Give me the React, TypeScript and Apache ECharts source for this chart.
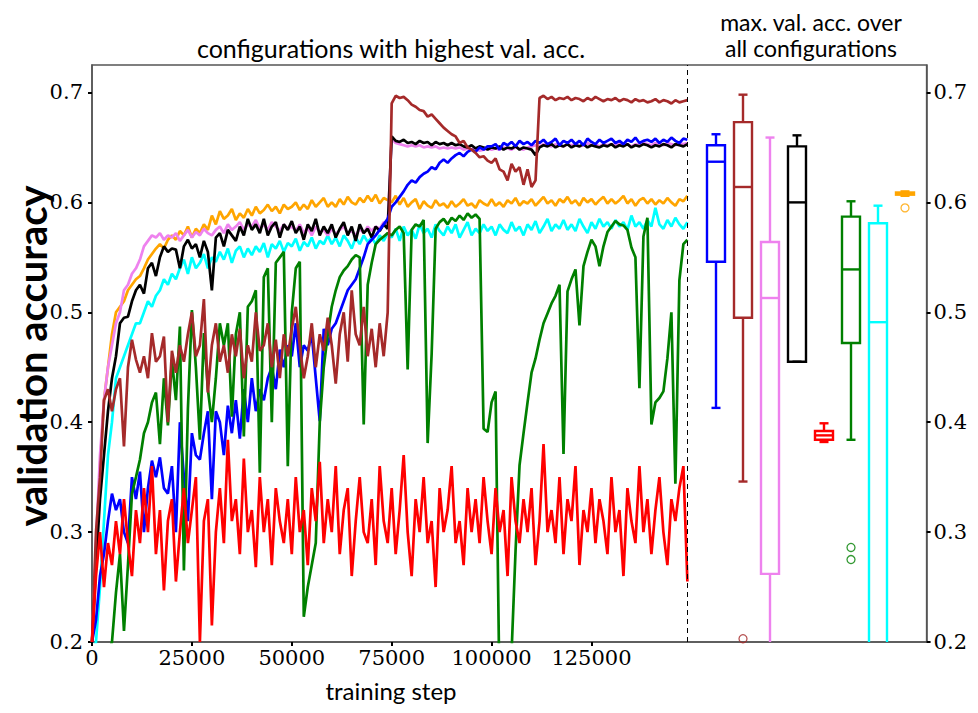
import React, { useEffect, useRef } from "react";
import * as echarts from "echarts";

const STEP = 1000;
const xTicks = [0, 25000, 50000, 75000, 100000, 125000];
const yTicks = [0.2, 0.3, 0.4, 0.5, 0.6, 0.7];

const orange = [
  0.20,0.28,0.36,0.42,0.45,0.48,0.50,0.505,0.51,0.52,
  0.525,0.53,0.533,0.54,0.548,0.553,0.558,0.562,0.558,0.566,
  0.57,0.566,0.574,0.57,0.578,0.568,0.576,0.572,0.58,0.575,
  0.588,0.58,0.592,0.585,0.588,0.594,0.584,0.59,0.586,0.594,
  0.588,0.596,0.59,0.593,0.598,0.592,0.596,0.59,0.598,0.594,
  0.596,0.6,0.593,0.598,0.594,0.602,0.596,0.6,0.604,0.596,
  0.6,0.596,0.603,0.598,0.605,0.6,0.598,0.604,0.6,0.606,
  0.601,0.607,0.599,0.604,0.602,0.6,0.606,0.598,0.604,0.596,
  0.6,0.603,0.594,0.601,0.597,0.595,0.602,0.597,0.599,0.595,
  0.601,0.596,0.599,0.603,0.597,0.599,0.595,0.602,0.599,0.597,
  0.603,0.597,0.6,0.596,0.602,0.599,0.604,0.597,0.601,0.599,
  0.603,0.597,0.601,0.605,0.599,0.602,0.597,0.603,0.6,0.605,
  0.599,0.602,0.597,0.604,0.6,0.603,0.598,0.602,0.605,0.599,
  0.603,0.599,0.602,0.606,0.599,0.603,0.597,0.602,0.604,0.599,
  0.603,0.598,0.602,0.599,0.604,0.6,0.597,0.603,0.601,0.606,
];

const cyan = [
  0.19,0.20,0.25,0.31,0.37,0.40,0.44,0.45,0.46,0.47,
  0.48,0.49,0.49,0.50,0.51,0.505,0.515,0.52,0.53,0.525,
  0.535,0.53,0.54,0.548,0.535,0.55,0.54,0.545,0.553,0.54,
  0.55,0.546,0.555,0.548,0.558,0.545,0.556,0.56,0.55,0.558,
  0.552,0.56,0.555,0.563,0.55,0.562,0.558,0.565,0.555,0.563,
  0.56,0.567,0.556,0.564,0.56,0.568,0.558,0.565,0.562,0.57,
  0.562,0.568,0.56,0.57,0.565,0.558,0.568,0.562,0.57,0.564,
  0.568,0.562,0.57,0.565,0.572,0.568,0.576,0.565,0.578,0.57,
  0.575,0.567,0.58,0.572,0.576,0.568,0.58,0.574,0.57,0.578,
  0.572,0.58,0.568,0.575,0.582,0.57,0.576,0.572,0.58,0.574,
  0.578,0.57,0.58,0.575,0.572,0.582,0.574,0.578,0.57,0.58,
  0.575,0.583,0.572,0.578,0.585,0.574,0.58,0.576,0.584,0.575,
  0.58,0.574,0.585,0.578,0.572,0.582,0.576,0.585,0.578,0.582,
  0.576,0.584,0.578,0.582,0.575,0.588,0.578,0.582,0.576,0.584,
  0.578,0.595,0.58,0.576,0.584,0.578,0.586,0.58,0.576,0.582,
];

const violet = [
  0.20,0.29,0.37,0.42,0.45,0.47,0.49,0.50,0.52,0.525,
  0.535,0.54,0.548,0.56,0.565,0.57,0.568,0.572,0.566,0.57,
  0.568,0.572,0.565,0.57,0.575,0.568,0.573,0.57,0.576,0.572,
  0.57,0.575,0.578,0.572,0.58,0.575,0.578,0.582,0.575,0.58,
  0.578,0.584,0.576,0.58,0.575,0.582,0.578,0.574,0.58,0.576,
  0.578,0.574,0.58,0.572,0.577,0.57,0.578,0.573,0.575,0.57,
  0.576,0.571,0.575,0.578,0.572,0.574,0.57,0.576,0.572,0.578,
  0.574,0.578,0.576,0.582,0.58,0.658,0.654,0.653,0.652,0.651,
  0.652,0.651,0.652,0.65,0.651,0.65,0.651,0.649,0.65,0.649,
  0.65,0.649,0.65,0.648,0.649,0.648,0.649,0.647,0.648,0.649,
  0.648,0.649,0.648,0.65,0.649,0.648,0.65,0.649,0.648,0.65,
  0.651,0.652,0.651,0.653,0.652,0.651,0.653,0.652,0.651,0.653,
  0.652,0.653,0.651,0.652,0.654,0.652,0.653,0.651,0.653,0.652,
  0.653,0.652,0.654,0.652,0.653,0.651,0.653,0.652,0.654,0.653,
  0.652,0.654,0.653,0.652,0.654,0.653,0.652,0.654,0.653,0.654,
];

const black = [
  0.20,0.27,0.33,0.37,0.41,0.44,0.46,0.49,0.495,0.496,
  0.51,0.52,0.525,0.517,0.54,0.545,0.533,0.55,0.56,0.555,
  0.558,0.557,0.54,0.56,0.566,0.558,0.562,0.55,0.565,0.555,
  0.52,0.568,0.572,0.56,0.575,0.57,0.565,0.578,0.57,0.585,
  0.575,0.58,0.572,0.585,0.57,0.578,0.582,0.568,0.58,0.575,
  0.583,0.572,0.578,0.566,0.58,0.574,0.585,0.57,0.578,0.572,
  0.58,0.568,0.576,0.582,0.57,0.578,0.565,0.58,0.572,0.576,
  0.568,0.578,0.574,0.58,0.576,0.66,0.656,0.655,0.657,0.654,
  0.655,0.653,0.656,0.654,0.655,0.652,0.655,0.653,0.654,0.652,
  0.654,0.652,0.653,0.651,0.65,0.652,0.649,0.651,0.65,0.648,
  0.65,0.649,0.651,0.648,0.65,0.649,0.651,0.648,0.65,0.649,
  0.648,0.643,0.65,0.652,0.651,0.653,0.65,0.652,0.651,0.653,
  0.65,0.652,0.651,0.653,0.65,0.652,0.651,0.65,0.652,0.651,
  0.653,0.65,0.652,0.651,0.653,0.65,0.652,0.651,0.653,0.652,
  0.65,0.652,0.651,0.653,0.652,0.65,0.653,0.652,0.651,0.653,
];

const blue = [
  0.20,0.22,0.26,0.28,0.31,0.335,0.32,0.33,0.30,0.29,
  0.35,0.33,0.355,0.30,0.34,0.365,0.35,0.368,0.34,0.335,
  0.36,0.30,0.40,0.35,0.31,0.39,0.37,0.366,0.39,0.41,
  0.33,0.41,0.40,0.37,0.415,0.39,0.42,0.385,0.43,0.40,
  0.44,0.41,0.43,0.42,0.44,0.45,0.43,0.466,0.45,0.47,
  0.46,0.49,0.45,0.47,0.465,0.48,0.44,0.401,0.485,0.47,
  0.485,0.49,0.50,0.51,0.52,0.525,0.53,0.54,0.55,0.562,
  0.566,0.57,0.575,0.58,0.585,0.596,0.60,0.605,0.61,0.616,
  0.62,0.618,0.623,0.626,0.628,0.632,0.63,0.636,0.639,0.636,
  0.64,0.643,0.645,0.642,0.646,0.648,0.646,0.65,0.648,0.651,
  0.651,0.653,0.648,0.654,0.652,0.655,0.651,0.656,0.653,0.655,
  0.652,0.656,0.654,0.657,0.653,0.655,0.658,0.652,0.656,0.654,
  0.657,0.653,0.656,0.652,0.658,0.655,0.653,0.657,0.654,0.656,
  0.658,0.654,0.656,0.653,0.657,0.655,0.659,0.654,0.656,0.657,
  0.655,0.658,0.654,0.657,0.655,0.659,0.656,0.654,0.658,0.657,
];

const green = [
  0.10,0.12,0.15,0.17,0.19,0.20,0.245,0.28,0.21,0.27,
  0.335,0.35,0.366,0.39,0.40,0.418,0.427,0.38,0.44,0.397,
  0.457,0.42,0.487,0.265,0.412,0.502,0.45,0.384,0.481,0.43,
  0.40,0.44,0.49,0.47,0.49,0.405,0.48,0.50,0.387,0.505,
  0.51,0.52,0.354,0.532,0.54,0.40,0.545,0.55,0.555,0.36,
  0.50,0.54,0.546,0.223,0.25,0.27,0.29,0.40,0.45,0.48,
  0.505,0.52,0.532,0.538,0.542,0.548,0.552,0.55,0.398,0.525,
  0.545,0.562,0.566,0.569,0.572,0.57,0.575,0.578,0.572,0.448,
  0.575,0.58,0.578,0.584,0.381,0.462,0.576,0.582,0.585,0.58,
  0.586,0.583,0.588,0.584,0.59,0.586,0.589,0.585,0.394,0.391,
  0.418,0.428,0.15,0.10,0.10,0.19,0.283,0.361,0.39,0.418,
  0.445,0.458,0.475,0.49,0.499,0.508,0.515,0.525,0.371,0.519,
  0.53,0.539,0.488,0.542,0.555,0.566,0.56,0.542,0.56,0.573,
  0.578,0.583,0.58,0.579,0.575,0.559,0.55,0.431,0.569,0.586,
  0.398,0.418,0.422,0.428,0.458,0.50,0.344,0.529,0.562,0.566,
];

const brown = [
  0.20,0.30,0.35,0.42,0.43,0.41,0.43,0.44,0.378,0.45,
  0.475,0.457,0.445,0.46,0.44,0.481,0.455,0.46,0.478,0.40,
  0.465,0.445,0.47,0.455,0.48,0.50,0.46,0.47,0.512,0.427,
  0.47,0.49,0.455,0.47,0.445,0.48,0.46,0.485,0.44,0.47,
  0.455,0.50,0.465,0.47,0.49,0.45,0.475,0.44,0.48,0.46,
  0.485,0.505,0.47,0.44,0.46,0.49,0.45,0.48,0.465,0.495,
  0.47,0.435,0.48,0.50,0.455,0.52,0.48,0.47,0.505,0.46,
  0.485,0.45,0.49,0.46,0.50,0.69,0.697,0.695,0.696,0.693,
  0.689,0.687,0.684,0.683,0.678,0.68,0.676,0.672,0.668,0.665,
  0.662,0.66,0.654,0.656,0.65,0.648,0.645,0.641,0.642,0.638,
  0.636,0.64,0.63,0.628,0.62,0.635,0.628,0.632,0.616,0.63,
  0.614,0.62,0.695,0.697,0.694,0.696,0.693,0.695,0.694,0.696,
  0.693,0.695,0.694,0.692,0.695,0.693,0.696,0.694,0.692,0.694,
  0.693,0.695,0.692,0.694,0.693,0.691,0.694,0.692,0.693,0.691,
  0.692,0.694,0.691,0.693,0.692,0.69,0.693,0.691,0.692,0.693,
];

const red = [
  0.20,0.26,0.30,0.25,0.29,0.27,0.31,0.28,0.33,0.29,
  0.26,0.32,0.29,0.34,0.30,0.36,0.28,0.32,0.247,0.31,
  0.33,0.255,0.30,0.34,0.29,0.32,0.35,0.20,0.31,0.33,
  0.215,0.30,0.34,0.29,0.384,0.31,0.33,0.28,0.367,0.30,
  0.32,0.268,0.35,0.30,0.33,0.27,0.34,0.31,0.29,0.33,
  0.28,0.35,0.30,0.32,0.27,0.34,0.31,0.364,0.29,0.33,
  0.30,0.36,0.28,0.32,0.34,0.26,0.31,0.35,0.30,0.29,
  0.33,0.27,0.36,0.31,0.29,0.34,0.28,0.32,0.37,0.30,
  0.26,0.33,0.30,0.35,0.29,0.31,0.25,0.34,0.30,0.32,
  0.36,0.29,0.31,0.27,0.34,0.30,0.33,0.29,0.35,0.31,
  0.28,0.34,0.30,0.32,0.26,0.35,0.31,0.29,0.33,0.30,
  0.34,0.27,0.31,0.38,0.30,0.32,0.29,0.35,0.28,0.33,
  0.31,0.36,0.27,0.32,0.30,0.34,0.29,0.33,0.31,0.28,
  0.35,0.30,0.32,0.26,0.34,0.31,0.29,0.36,0.30,0.33,
  0.28,0.32,0.35,0.30,0.27,0.33,0.31,0.34,0.36,0.255,
];

// box panel: [min, q1, median, q3, max]
const boxColors = ["#0000ff", "#a52a2a", "#ee82ee", "#000000", "#ff0000", "#008000", "#00ffff", "#ffa500"];
const boxStats = [
  [0.413, 0.546, 0.637, 0.652, 0.662],
  [0.346, 0.495, 0.614, 0.673, 0.698],
  [0.10, 0.262, 0.513, 0.564, 0.659],
  [0.455, 0.455, 0.600, 0.651, 0.661],
  [0.382, 0.384, 0.388, 0.392, 0.399],
  [0.384, 0.472, 0.539, 0.587, 0.601],
  [0.05, 0.10, 0.491, 0.581, 0.597],
  [0.606, 0.607, 0.608, 0.609, 0.610],
];
const outliers = [
  [2, 0.203, 1],
  [6, 0.286, 5],
  [6, 0.275, 5],
  [8, 0.595, 7],
];

const lineSeries = [
  { name: "orange", color: "#ffa500", data: orange },
  { name: "cyan", color: "#00ffff", data: cyan },
  { name: "violet", color: "#ee82ee", data: violet },
  { name: "black", color: "#000000", data: black },
  { name: "blue", color: "#0000ff", data: blue },
  { name: "green", color: "#008000", data: green },
  { name: "brown", color: "#a52a2a", data: brown },
  { name: "red", color: "#ff0000", data: red },
];

const SERIF = "DejaVu Serif";
const SANS = "Lato";

export default function App() {
  const ref = useRef<HTMLDivElement>(null);
  useEffect(() => {
    if (!ref.current) return;
    const chart = echarts.init(ref.current, null, { renderer: "svg" });
    // the div sits at the body's 8px margin
    const gridLeft = 84, gridTop = 57, gridW = 837, gridH = 577;
    const series: any[] = lineSeries.map((s, idx) => ({
      type: "line",
      name: s.name,
      xAxisIndex: 0,
      yAxisIndex: 0,
      data: s.data.map((v, i) => [i * STEP, v]),
      showSymbol: false,
      symbol: "none",
      lineStyle: { color: s.color, width: 2.7 },
      itemStyle: { color: s.color },
      clip: true,
      z: 2 + idx * 0.01,
      markLine: idx === 0 ? {
        silent: true,
        symbol: "none",
        label: { show: false },
        lineStyle: { type: [5, 4], color: "#000", width: 1 },
        data: [{ xAxis: 149000 }],
      } : undefined,
    }));
    series.push({
      type: "custom",
      name: "max val acc",
      xAxisIndex: 1,
      yAxisIndex: 2,
      clip: true,
      data: boxStats.map((b, i) => [i + 1, ...b, i]),
      encode: { x: 0, y: [1, 2, 3, 4, 5] },
      renderItem: (params: any, api: any) => {
        const x = api.value(0);
        const col = boxColors[api.value(6)];
        const pMin = api.coord([x, api.value(1)]);
        const pQ1 = api.coord([x, api.value(2)]);
        const pMed = api.coord([x, api.value(3)]);
        const pQ3 = api.coord([x, api.value(4)]);
        const pMax = api.coord([x, api.value(5)]);
        const hw = 9, cw = 4.5;
        const style = { stroke: col, lineWidth: 2.4, fill: null };
        const cx = pMed[0];
        return {
          type: "group",
          children: [
            { type: "line", shape: { x1: cx, y1: pMax[1], x2: cx, y2: pQ3[1] }, style },
            { type: "line", shape: { x1: cx, y1: pQ1[1], x2: cx, y2: pMin[1] }, style },
            { type: "line", shape: { x1: cx - cw, y1: pMax[1], x2: cx + cw, y2: pMax[1] }, style },
            { type: "line", shape: { x1: cx - cw, y1: pMin[1], x2: cx + cw, y2: pMin[1] }, style },
            { type: "rect", shape: { x: cx - hw, y: pQ3[1], width: hw * 2, height: pQ1[1] - pQ3[1] }, style },
            { type: "line", shape: { x1: cx - hw, y1: pMed[1], x2: cx + hw, y2: pMed[1] }, style },
          ],
        };
      },
      z: 3,
    });
    series.push({
      type: "scatter",
      name: "outliers",
      xAxisIndex: 1,
      yAxisIndex: 2,
      symbol: "circle",
      symbolSize: 8,
      data: outliers.map((o) => ({
        value: [o[0], o[1]],
        itemStyle: { color: "rgba(0,0,0,0)", borderColor: boxColors[o[2]], borderWidth: 1.3 },
      })),
      z: 3,
    });

    const tickLabel = { fontFamily: SERIF, fontSize: 21, color: "#000", fontWeight: "normal" };
    chart.setOption({
      animation: false,
      backgroundColor: "#fff",
      textStyle: { fontFamily: SERIF },
      grid: [
        { left: gridLeft, top: gridTop, width: gridW, height: gridH, show: true, borderColor: "#555", borderWidth: 1.5, backgroundColor: "transparent" },
        { left: 681, top: gridTop, width: 240, height: gridH, show: false },
      ],
      xAxis: [
        {
          type: "value",
          gridIndex: 0,
          min: 0,
          max: 208870,
          axisLine: { show: true, lineStyle: { color: "#555", width: 1.5 } },
          axisTick: { show: true, customValues: xTicks, length: 4, lineStyle: { color: "#000", width: 2 } },
          axisLabel: { ...tickLabel, customValues: xTicks, margin: 5, formatter: (v: number) => String(v) },
          splitLine: { show: false },
        },
        { type: "value", gridIndex: 1, min: 0, max: 240 / 27, show: false },
      ],
      yAxis: [
        {
          type: "value",
          gridIndex: 0,
          position: "left",
          min: 0.2,
          max: 0.725,
          axisLine: { show: true, lineStyle: { color: "#555", width: 1.5 } },
          axisTick: { show: true, customValues: yTicks, length: 4, lineStyle: { color: "#000", width: 2 } },
          axisLabel: { ...tickLabel, customValues: yTicks, margin: 9, formatter: (v: number) => v.toFixed(1) },
          splitLine: { show: false },
        },
        {
          type: "value",
          gridIndex: 0,
          position: "right",
          min: 0.2,
          max: 0.725,
          axisLine: { show: true, lineStyle: { color: "#555", width: 1.5 } },
          axisTick: { show: true, customValues: yTicks, length: 4, lineStyle: { color: "#000", width: 2 } },
          axisLabel: { ...tickLabel, customValues: yTicks, margin: 7, formatter: (v: number) => v.toFixed(1) },
          splitLine: { show: false },
        },
        { type: "value", gridIndex: 1, min: 0.2, max: 0.725, show: false },
      ],
      graphic: [
        {
          type: "text",
          x: 383,
          y: 40,
          style: { text: "configurations with highest val. acc.", fontFamily: SANS, fontSize: 25, fill: "#000", align: "center", verticalAlign: "middle" },
        },
        {
          type: "text",
          x: 803,
          y: 14,
          style: { text: "max. val. acc. over", fontFamily: SANS, fontSize: 23, lineHeight: 23, fill: "#000", align: "center", verticalAlign: "middle" },
        },
        {
          type: "text",
          x: 803,
          y: 40,
          style: { text: "all configurations", fontFamily: SANS, fontSize: 23, lineHeight: 23, fill: "#000", align: "center", verticalAlign: "middle" },
        },
        {
          type: "text",
          x: 383,
          y: 682,
          style: { text: "training step", fontFamily: SANS, fontSize: 24, fill: "#000", align: "center", verticalAlign: "middle" },
        },
        {
          type: "text",
          x: 24,
          y: 348,
          rotation: Math.PI / 2,
          style: { text: "validation accuracy", fontFamily: SANS, fontWeight: "bold", fontSize: 40, lineHeight: 40, fill: "#000", align: "center", verticalAlign: "middle" },
        },
      ],
      series,
    });
    return () => chart.dispose();
  }, []);
  return <div ref={ref} style={{ width: 962, height: 697 }} />;
}
